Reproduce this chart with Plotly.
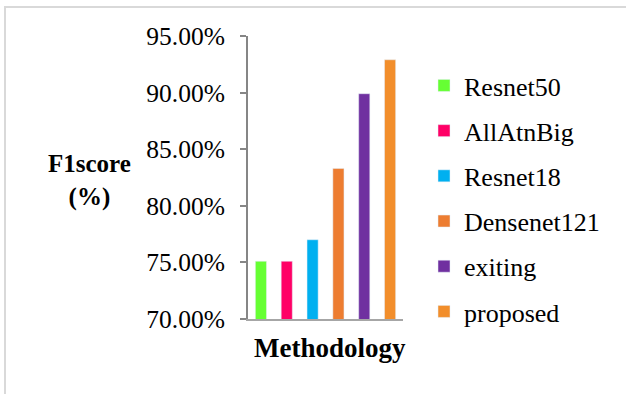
import plotly.graph_objects as go

methods = ["Resnet50", "AllAtnBig", "Resnet18", "Densenet121", "exiting", "proposed"]
f1_scores = [75.1, 75.1, 77.0, 83.3, 89.9, 92.9]
colors = ["#66FF33", "#FF0066", "#00B0F0", "#ED7D31", "#7030A0", "#F28E2B"]
y_ticks = [70, 75, 80, 85, 90, 95]
y_tick_labels = [f"{v:.2f}%" for v in y_ticks]

FONT = "Liberation Serif"

# plot-area geometry in pixels
W, H = 626, 394
L, R, T, B = 248, 403, 36, 318.7
pw, ph = R - L, B - T


def px_x(p):
    return (p - L) / pw


def px_y(p):
    return (B - p) / ph


fig = go.Figure()
for i, (name, val, col) in enumerate(zip(methods, f1_scores, colors)):
    fig.add_trace(go.Bar(
        x=[name], y=[val], name=name, marker_color=col,
        width=0.43, legendgroup=f"g{i}",
    ))

# outer frame of the chart
fig.add_shape(type="rect", xref="paper", yref="paper",
              x0=px_x(5), x1=px_x(640), y0=px_y(410), y1=px_y(7),
              line=dict(color="#D9D9D9", width=2), layer="below")

# horizontal y-axis title
fig.add_annotation(text="<b>F1score<br>(%)</b>", xref="paper", yref="paper",
                   x=px_x(89), y=px_y(180), xanchor="center", yanchor="middle",
                   showarrow=False, font=dict(family=FONT, size=25, color="black"))

# x-axis title
fig.add_annotation(text="<b>Methodology</b>", xref="paper", yref="paper",
                   x=px_x(330), y=px_y(348), xanchor="center", yanchor="middle",
                   showarrow=False, font=dict(family=FONT, size=27, color="black"))

fig.update_layout(
    width=W, height=H,
    margin=dict(l=L, r=W - R, t=T, b=H - B, pad=0),
    paper_bgcolor="white", plot_bgcolor="white",
    barmode="overlay",
    font=dict(family=FONT, size=26, color="black"),
    showlegend=True,
    legend=dict(x=px_x(424), y=px_y(62), xanchor="left", yanchor="top",
                font=dict(family=FONT, size=26, color="black"),
                tracegroupgap=8.4, bgcolor="rgba(0,0,0,0)", maxheight=400),
    xaxis=dict(showticklabels=False, showgrid=False, zeroline=False,
               showline=True, linecolor="#A6A6A6", linewidth=2, ticks=""),
    yaxis=dict(range=[70, 95], tickvals=y_ticks, ticktext=y_tick_labels,
               showgrid=False, zeroline=False, showline=True,
               linecolor="#868686", linewidth=2, ticks="outside", ticklen=6,
               tickcolor="#868686", tickwidth=1.5, ticklabelstandoff=10,
               tickfont=dict(family=FONT, size=25.5, color="black")),
)

fig.write_html("out.html")
